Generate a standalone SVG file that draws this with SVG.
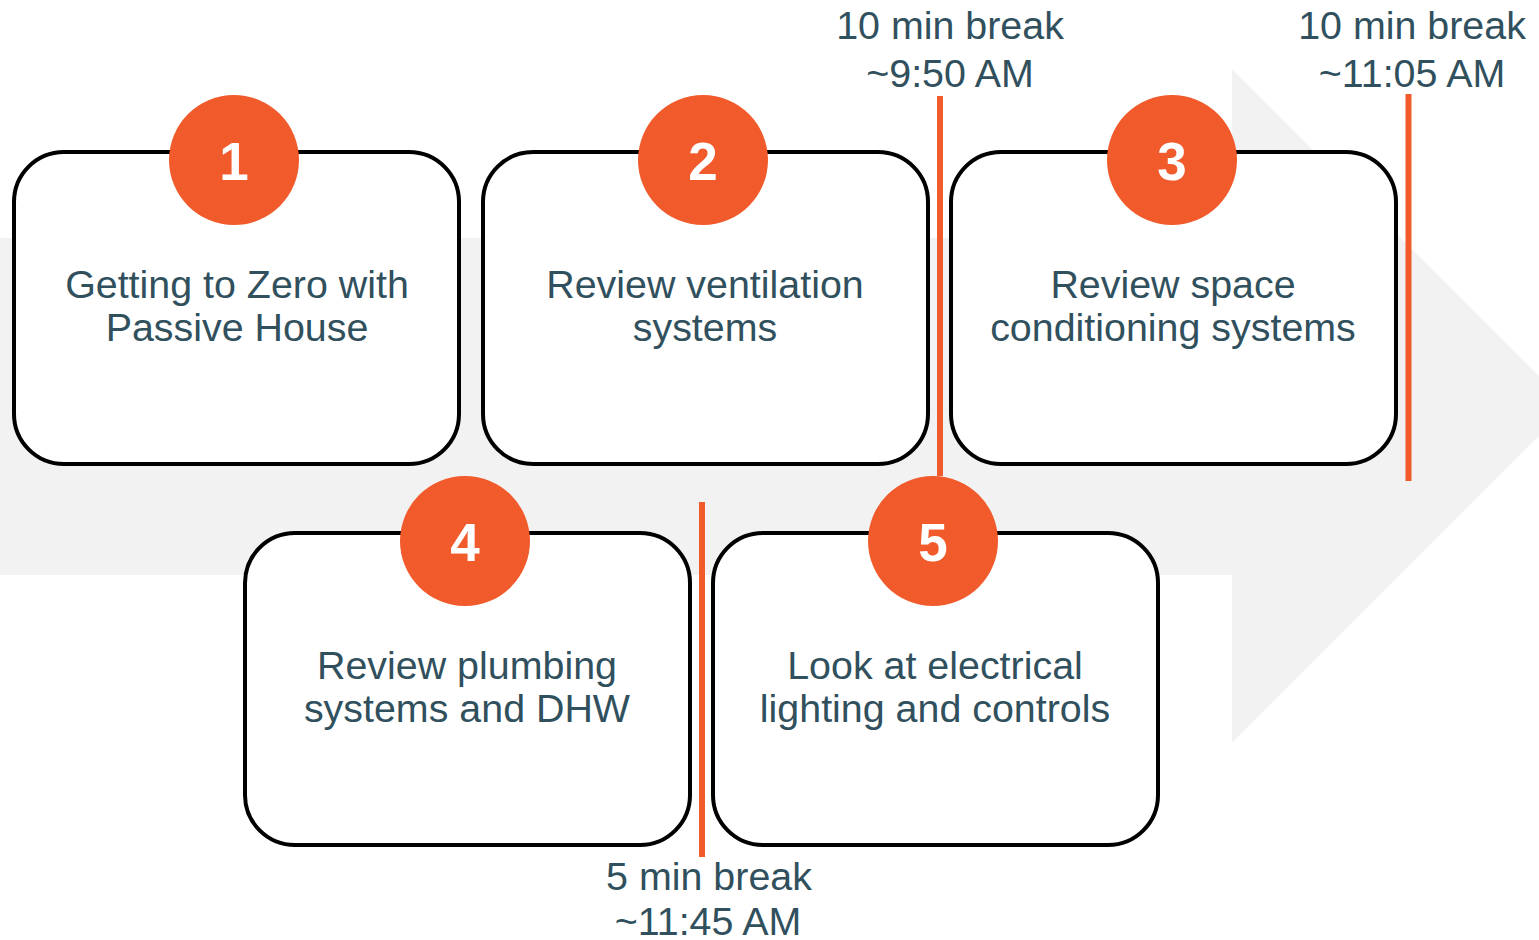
<svg xmlns="http://www.w3.org/2000/svg" width="1539" height="940" viewBox="0 0 1539 940">
<style>
.box{fill:#ffffff;stroke:#000000;stroke-width:4}
.badge{fill:#F15A2B}
.num{font-family:"Liberation Sans",Arial,sans-serif;font-weight:bold;font-size:53px;fill:#ffffff;text-anchor:middle}
.lbl{font-family:"Liberation Sans",Arial,sans-serif;font-size:39.4px;fill:#31505D;text-anchor:middle}
.brk{stroke:#F15A2B;stroke-width:6;fill:none}
</style>
<rect width="1539" height="940" fill="#ffffff"/>
<polygon id="arrow" points="0,238 1232,238 1232,69 1569,406 1232,743 1232,575 0,575" fill="#F2F2F2"/>
<g id="node1">
<rect class="box" x="14" y="152" width="445" height="312" rx="50"/>
<circle class="badge" cx="234" cy="160" r="65"/>
<text class="num" x="234" y="180">1</text>
<text class="lbl" x="237" y="298">Getting to Zero with</text>
<text class="lbl" x="237" y="341">Passive House</text>
</g>
<g id="node2">
<rect class="box" x="483" y="152" width="445" height="312" rx="50"/>
<circle class="badge" cx="703" cy="160" r="65"/>
<text class="num" x="703" y="180">2</text>
<text class="lbl" x="705" y="298">Review ventilation</text>
<text class="lbl" x="705" y="341">systems</text>
</g>
<g id="node3">
<rect class="box" x="951" y="152" width="445" height="312" rx="50"/>
<circle class="badge" cx="1172" cy="160" r="65"/>
<text class="num" x="1172" y="180">3</text>
<text class="lbl" x="1173" y="298">Review space</text>
<text class="lbl" x="1173" y="341">conditioning systems</text>
</g>
<g id="node4">
<rect class="box" x="245" y="533" width="445" height="312" rx="50"/>
<circle class="badge" cx="465" cy="541" r="65"/>
<text class="num" x="465" y="561">4</text>
<text class="lbl" x="467" y="679">Review plumbing</text>
<text class="lbl" x="467" y="722">systems and DHW</text>
</g>
<g id="node5">
<rect class="box" x="713" y="533" width="445" height="312" rx="50"/>
<circle class="badge" cx="933" cy="541" r="65"/>
<text class="num" x="933" y="561">5</text>
<text class="lbl" x="935" y="679">Look at electrical</text>
<text class="lbl" x="935" y="722">lighting and controls</text>
</g>
<g id="connectors">
<line class="brk" x1="940" y1="96" x2="940" y2="476"/>
<line class="brk" x1="1408.5" y1="94" x2="1408.5" y2="481"/>
<line class="brk" x1="702" y1="502" x2="702" y2="857"/>
</g>
<g id="breaks">
<text class="lbl" x="950" y="39">10 min break</text>
<text class="lbl" x="950" y="87">~9:50 AM</text>
<text class="lbl" x="1412" y="39">10 min break</text>
<text class="lbl" x="1412" y="87">~11:05 AM</text>
<text class="lbl" x="709" y="890">5 min break</text>
<text class="lbl" x="708" y="935">~11:45 AM</text>
</g>
</svg>
